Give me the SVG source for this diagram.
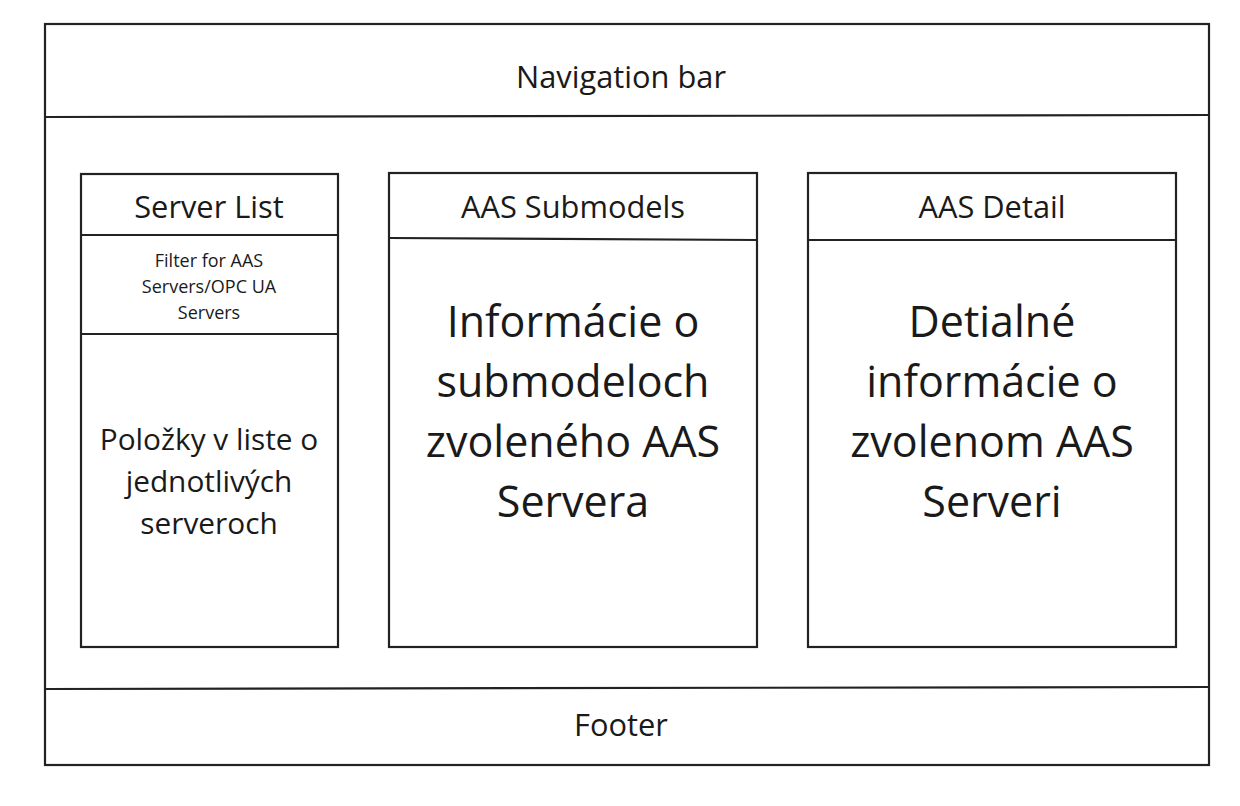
<svg xmlns="http://www.w3.org/2000/svg" width="1240" height="806" viewBox="0 0 1240 806">
<style>
.b{fill:none;stroke:#222;stroke-width:2.2}
text{font-family:"Open Sans","Noto Sans",sans-serif;fill:#1a1a1a;text-anchor:middle;dominant-baseline:central}
.h{font-size:30.8px}
.s{font-size:18px}
.m{font-size:29.8px}
.l{font-size:43px}
</style>
<rect width="1240" height="806" fill="#fff"/>
<g id="page">
<rect class="b" x="45" y="24" width="1164" height="741"/>
</g>
<g id="navbar">
<line class="b" x1="45" y1="117" x2="1209" y2="115"/>
<text class="h" x="621" y="76">Navigation bar</text>
</g>
<g id="server-list">
<rect class="b" x="81" y="174" width="257" height="473"/>
<line class="b" x1="81" y1="235" x2="338" y2="235"/>
<line class="b" x1="81" y1="334" x2="338" y2="334"/>
<text class="h" x="209" y="206">Server List</text>
<text class="s" x="209" y="260">Filter for AAS</text>
<text class="s" x="209" y="286">Servers/OPC UA</text>
<text class="s" x="209" y="312">Servers</text>
<text class="m" x="209" y="438">Položky v liste o</text>
<text class="m" x="209" y="480">jednotlivých</text>
<text class="m" x="209" y="522">serveroch</text>
</g>
<g id="aas-submodels">
<rect class="b" x="389" y="173" width="368" height="474"/>
<line class="b" x1="389" y1="238" x2="757" y2="240"/>
<text class="h" x="573" y="206">AAS Submodels</text>
<text class="l" x="573" y="320">Informácie o</text>
<text class="l" x="573" y="380">submodeloch</text>
<text class="l" x="573" y="440">zvoleného AAS</text>
<text class="l" x="573" y="500">Servera</text>
</g>
<g id="aas-detail">
<rect class="b" x="808" y="173" width="368" height="474"/>
<line class="b" x1="808" y1="240" x2="1176" y2="240"/>
<text class="h" x="992" y="206">AAS Detail</text>
<text class="l" x="992" y="320">Detialné</text>
<text class="l" x="992" y="380">informácie o</text>
<text class="l" x="992" y="440">zvolenom AAS</text>
<text class="l" x="992" y="500">Serveri</text>
</g>
<g id="footer">
<line class="b" x1="45" y1="689" x2="1209" y2="687"/>
<text class="h" x="621" y="724">Footer</text>
</g>
<g id="connectors"></g>
</svg>
